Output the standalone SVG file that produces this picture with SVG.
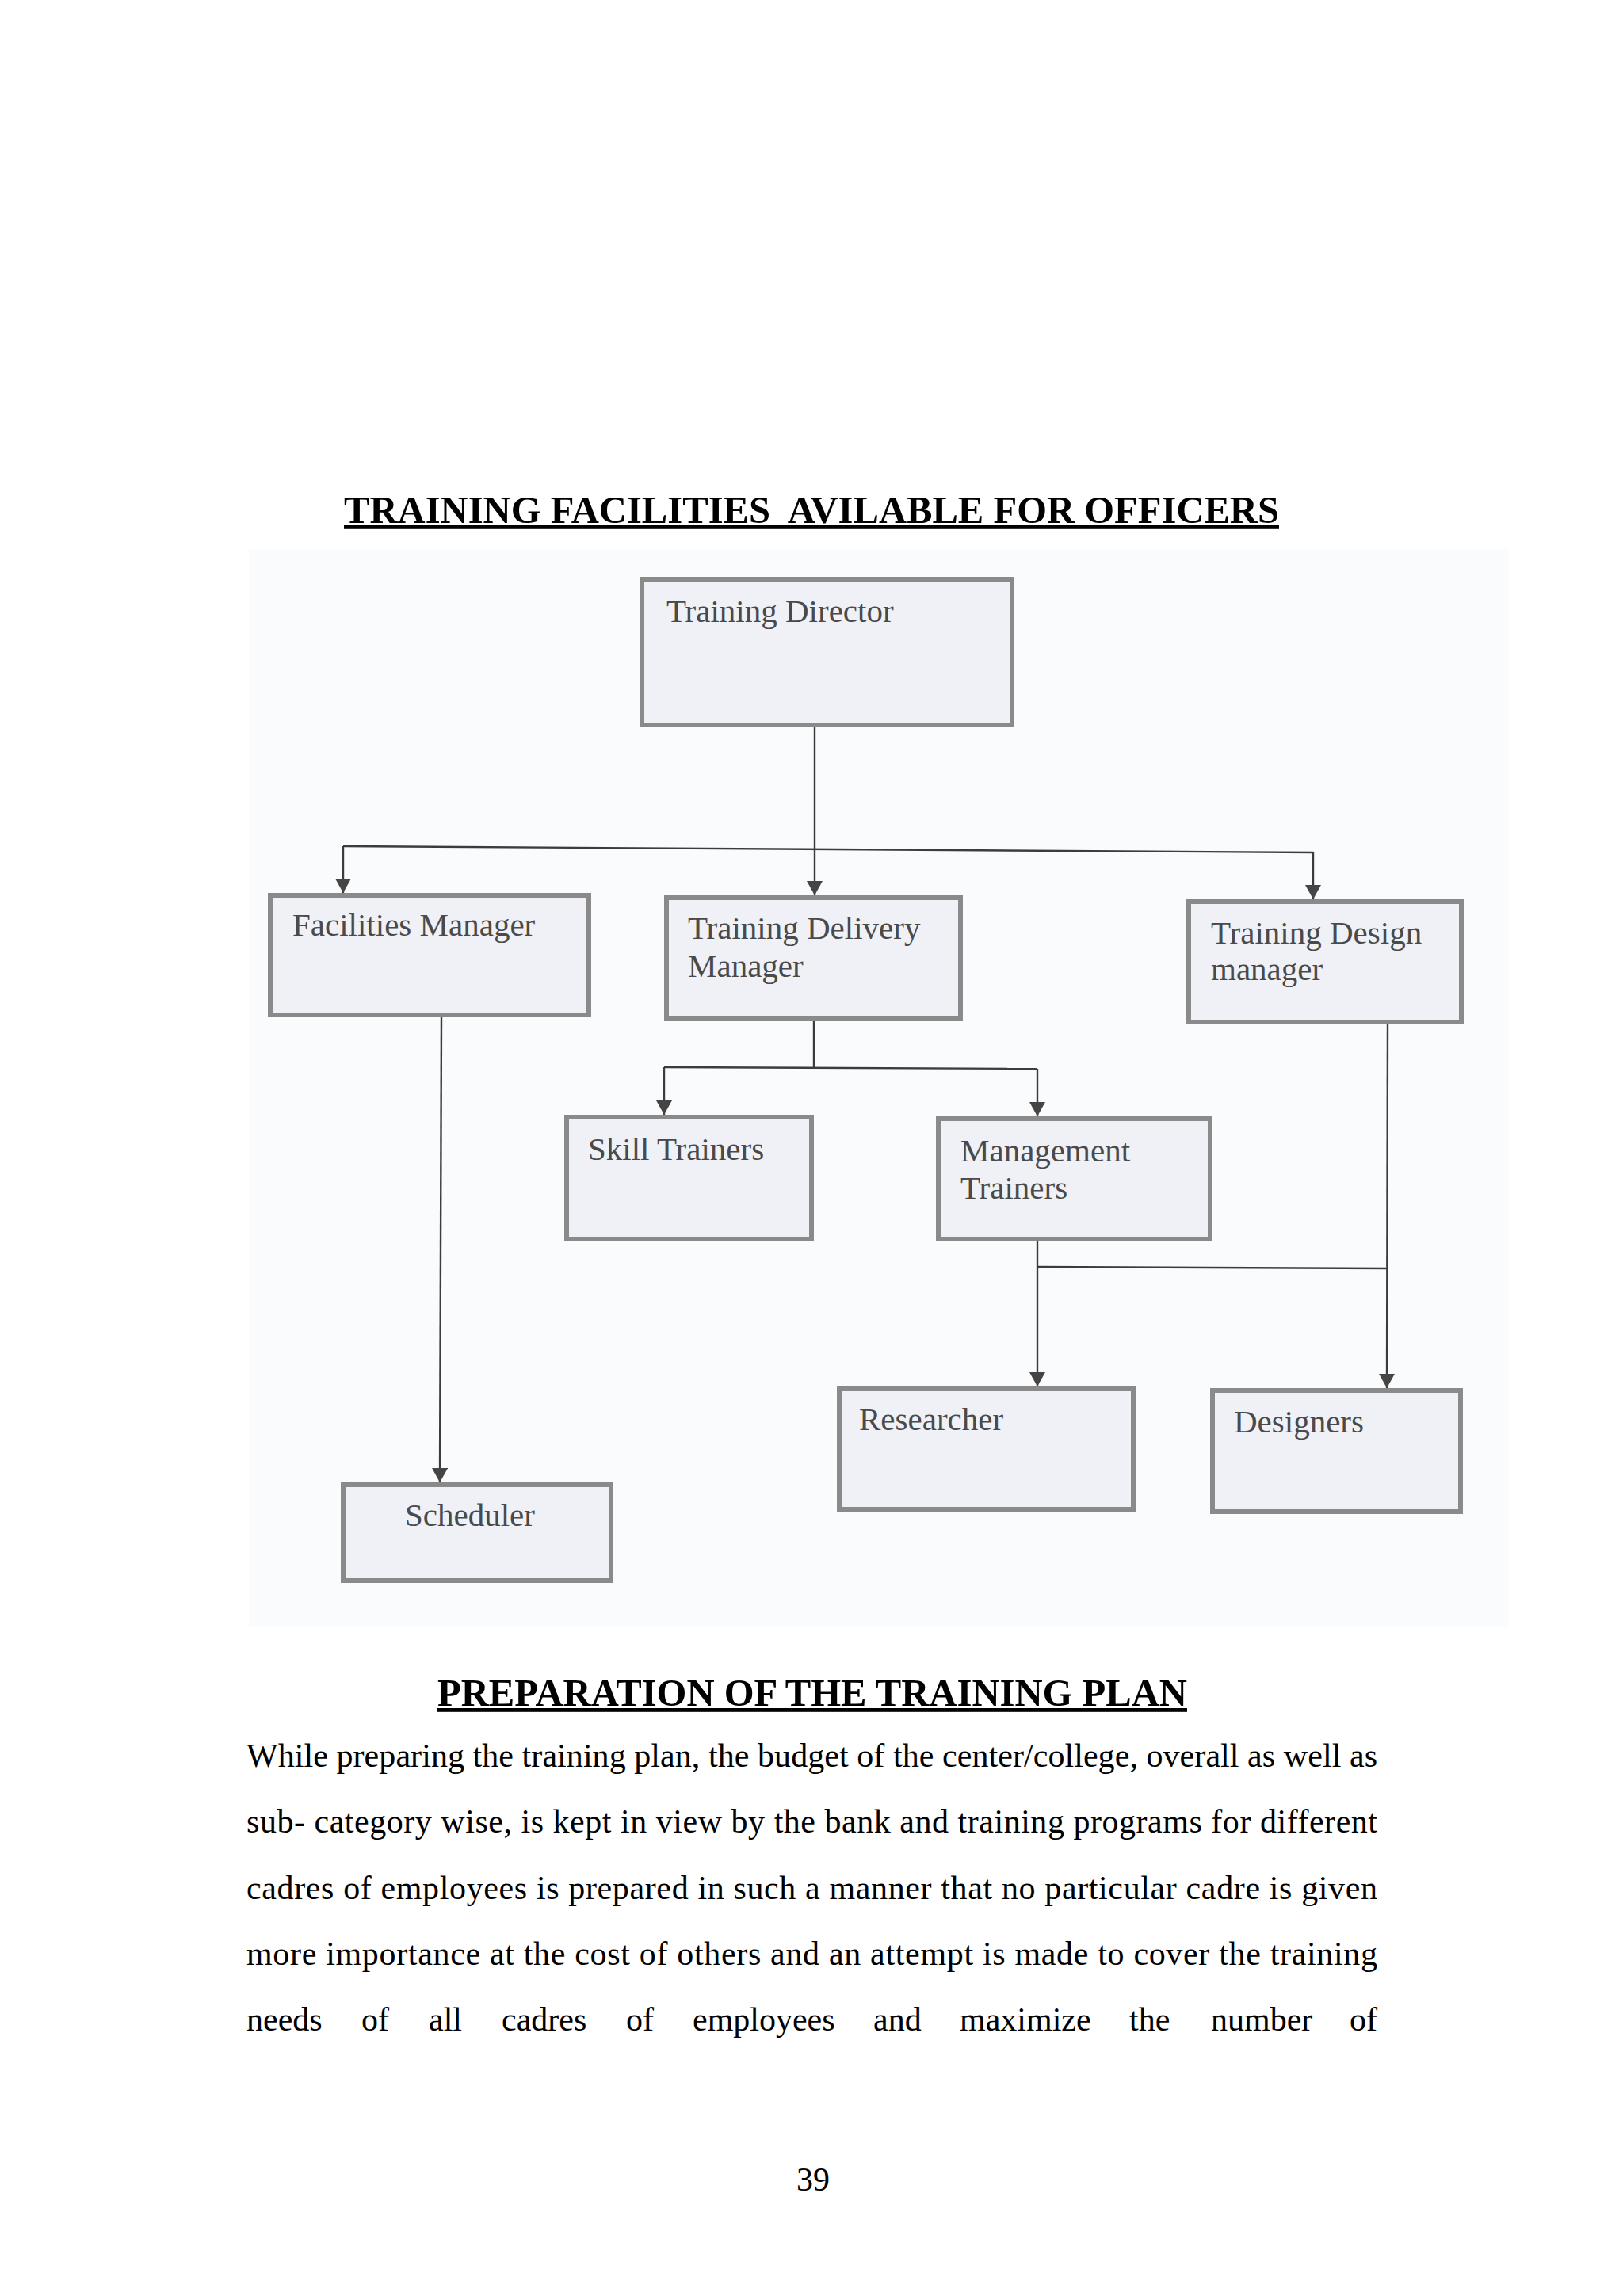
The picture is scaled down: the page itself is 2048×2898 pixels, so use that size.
<svg xmlns="http://www.w3.org/2000/svg" width="2048" height="2898" viewBox="0 0 2048 2898">
<style>
.head{font-family:"Liberation Serif","Times New Roman",serif;font-weight:bold;font-size:48px;fill:#000;text-decoration:underline;white-space:pre}
.body{font-family:"Liberation Serif","Times New Roman",serif;font-size:42px;fill:#000}
.box{fill:#eff1f6;stroke:#8a8a8a;stroke-width:6}
.lbl{font-family:"Liberation Serif","Times New Roman",serif;font-size:41px;fill:#4a4a4a}
.conn{fill:none;stroke:#3c3c3c;stroke-width:2.4}
</style>
<defs>
<marker id="arr" viewBox="0 0 18 20" refX="18" refY="10" markerWidth="18" markerHeight="20" markerUnits="userSpaceOnUse" orient="auto">
<path d="M0,0 L18,10 L0,20 Z" fill="#454545"/>
</marker>
</defs>
<rect width="2048" height="2898" fill="#ffffff"/>
<rect x="314" y="693" width="1590" height="1360" fill="#fafbfc"/>

<text class="head" x="434" y="660" textLength="1180" lengthAdjust="spacingAndGlyphs" xml:space="preserve">TRAINING FACILITIES  AVILABLE FOR OFFICERS</text>

<g id="connectors">
<path class="conn" d="M1028,918 L1028,1130" marker-end="url(#arr)"/>
<path class="conn" d="M433,1068 L1657,1076"/>
<path class="conn" d="M433,1068 L433,1127" marker-end="url(#arr)"/>
<path class="conn" d="M1657,1076 L1657,1135" marker-end="url(#arr)"/>
<path class="conn" d="M557,1284 L555,1871" marker-end="url(#arr)"/>
<path class="conn" d="M1027,1289 L1027,1348"/>
<path class="conn" d="M838,1347 L1309,1349"/>
<path class="conn" d="M838,1347 L838,1407" marker-end="url(#arr)"/>
<path class="conn" d="M1309,1349 L1309,1409" marker-end="url(#arr)"/>
<path class="conn" d="M1309,1567 L1309,1750" marker-end="url(#arr)"/>
<path class="conn" d="M1309,1599 L1750,1601"/>
<path class="conn" d="M1751,1293 L1750,1752" marker-end="url(#arr)"/>
</g>

<g id="training-director">
<rect class="box" x="810" y="731" width="467" height="184"/>
<text class="lbl" x="841" y="785">Training Director</text>
</g>
<g id="facilities-manager">
<rect class="box" x="341" y="1130" width="402" height="151"/>
<text class="lbl" x="369" y="1181">Facilities Manager</text>
</g>
<g id="training-delivery-manager">
<rect class="box" x="841" y="1133" width="371" height="153"/>
<text class="lbl" x="868" y="1185">Training Delivery</text>
<text class="lbl" x="868" y="1233">Manager</text>
</g>
<g id="training-design-manager">
<rect class="box" x="1500" y="1138" width="344" height="152"/>
<text class="lbl" x="1528" y="1191">Training Design</text>
<text class="lbl" x="1528" y="1237">manager</text>
</g>
<g id="skill-trainers">
<rect class="box" x="715" y="1410" width="309" height="154"/>
<text class="lbl" x="742" y="1464">Skill Trainers</text>
</g>
<g id="management-trainers">
<rect class="box" x="1184" y="1412" width="343" height="152"/>
<text class="lbl" x="1212" y="1466">Management</text>
<text class="lbl" x="1212" y="1513">Trainers</text>
</g>
<g id="researcher">
<rect class="box" x="1059" y="1753" width="371" height="152"/>
<text class="lbl" x="1084" y="1805">Researcher</text>
</g>
<g id="designers">
<rect class="box" x="1530" y="1755" width="313" height="153"/>
<text class="lbl" x="1557" y="1808">Designers</text>
</g>
<g id="scheduler">
<rect class="box" x="433" y="1874" width="338" height="121"/>
<text class="lbl" x="511" y="1926">Scheduler</text>
</g>

<text class="head" x="552" y="2153" textLength="946" lengthAdjust="spacingAndGlyphs">PREPARATION OF THE TRAINING PLAN</text>

<text class="body" x="311" y="2230" textLength="1427" lengthAdjust="spacing">While preparing the training plan, the budget of the center/college, overall as well as</text>
<text class="body" x="311" y="2313" textLength="1427" lengthAdjust="spacing">sub- category wise, is kept in view by the bank and training programs for different</text>
<text class="body" x="311" y="2397" textLength="1427" lengthAdjust="spacing">cadres of employees is prepared in such a manner that no particular cadre is given</text>
<text class="body" x="311" y="2480" textLength="1427" lengthAdjust="spacing">more importance at the cost of others and an attempt is made to cover the training</text>
<g class="body">
<text class="body" x="311" y="2563">needs</text>
<text class="body" x="456" y="2563">of</text>
<text class="body" x="541" y="2563">all</text>
<text class="body" x="633" y="2563">cadres</text>
<text class="body" x="790" y="2563">of</text>
<text class="body" x="874" y="2563">employees</text>
<text class="body" x="1102" y="2563">and</text>
<text class="body" x="1211" y="2563">maximize</text>
<text class="body" x="1425" y="2563">the</text>
<text class="body" x="1528" y="2563">number</text>
<text class="body" x="1738" y="2563" text-anchor="end">of</text>
</g>

<text class="body" x="1026" y="2765" text-anchor="middle">39</text>
</svg>
